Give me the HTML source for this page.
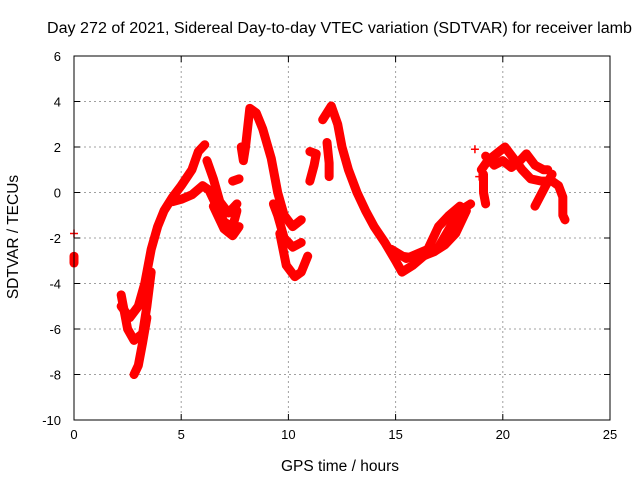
<!DOCTYPE html>
<html><head><meta charset="utf-8"><style>
body{margin:0;background:#fff;width:640px;height:480px;overflow:hidden}
text{font-family:"Liberation Sans",sans-serif;font-size:13px;fill:#000}
.big{font-size:15.5px}
</style></head><body>
<svg id="chart" width="640" height="480">
<text class="big" x="47" y="33" textLength="585" lengthAdjust="spacingAndGlyphs">Day 272 of 2021, Sidereal Day-to-day VTEC variation (SDTVAR) for receiver lamb</text>
<text class="big" x="340" y="471" text-anchor="middle">GPS time / hours</text>
<text class="big" transform="translate(18,237) rotate(-90)" text-anchor="middle">SDTVAR / TECUs</text>
<g id="grid"></g><g id="marks"></g>
<rect x="74" y="56" width="536" height="364" fill="none" stroke="#000" stroke-width="1"/>
</svg>
<script>
const xTicks=[0,5,10,15,20,25];
const yTicks=[-10,-8,-6,-4,-2,0,2,4,6];
const track1=[[2.2,-5],[2.6,-5.5],[3.0,-5],[3.3,-4],[3.6,-2.5],[3.9,-1.5],[4.2,-0.8],[4.6,-0.2],[5.0,0.3],[5.5,1.0],[5.8,1.8],[6.1,2.1]];
const track2=[[4.6,-0.4],[5.0,-0.3],[5.5,-0.1],[6.0,0.3],[6.3,0.1],[6.6,-0.5],[7.0,-1.3],[7.4,-1.5],[7.6,-0.8]];
const track3=[[6.5,-0.6],[7.0,-1.6],[7.4,-1.9],[7.7,-1.5]];
const track4=[[6.2,1.4],[6.5,0.6],[6.8,-0.4],[7.2,-0.9],[7.6,-0.5]];
const track5=[[2.2,-4.5],[2.5,-6],[2.8,-6.5],[3.2,-6.2],[3.4,-5],[3.6,-3.5]];
const track6=[[2.8,-8],[3.0,-7.6],[3.2,-6.6],[3.4,-5.5]];
const track7=[[0,-2.8],[0,-3.1]];
const track8=[[7.4,0.5],[7.7,0.6]];
const track9=[[7.8,2.0],[7.9,1.4],[8.0,2.0],[8.2,3.7],[8.5,3.5],[8.8,2.8],[9.2,1.5],[9.5,0],[9.8,-1],[10.2,-1.5],[10.6,-1.2]];
const track10=[[9.3,-0.5],[9.5,-1.0],[9.8,-2.0],[10.2,-2.4],[10.6,-2.2]];
const track11=[[9.6,-1.8],[9.9,-3.2],[10.3,-3.7],[10.6,-3.5],[10.9,-2.8]];
const track12=[[11.0,0.5],[11.2,1.2],[11.3,1.7],[11.0,1.8]];
const track13=[[11.6,3.2],[12.0,3.8],[12.3,3.0],[12.5,2.0],[12.8,1.0],[13.2,0],[13.6,-0.8],[14.0,-1.5],[14.5,-2.2],[15.0,-3.0],[15.3,-3.5],[15.8,-3.2],[16.3,-2.8],[17.0,-2.4],[17.5,-1.6],[18.0,-0.8],[18.5,-0.5]];
const track14=[[11.8,2.2],[11.9,1.3],[11.9,0.7]];
const track15=[[14.8,-2.5],[15.5,-2.9],[16.5,-2.5],[17.0,-1.5],[17.5,-1.0],[18.0,-0.6],[18.3,-0.8],[17.8,-1.8],[17.3,-2.3],[16.8,-2.6],[16.0,-2.9],[15.3,-2.8]];
const track16=[[19.0,1.0],[19.3,1.4],[19.7,1.7],[20.1,2.0],[20.5,1.5],[20.9,1.0],[21.3,0.6],[21.8,0.5],[22.3,0.5],[22.6,0.3],[22.8,-0.2],[22.8,-1.0],[22.9,-1.2]];
const track17=[[19.2,1.6],[19.6,1.2],[20.0,1.4],[20.4,1.1],[20.8,1.4],[21.1,1.7],[21.5,1.2],[21.9,1.0],[22.1,1.0]];
const track18=[[21.5,-0.6],[22.0,0.3],[22.3,0.8]];
const track19=[[19.1,0.8],[19.1,0.0],[19.2,-0.5]];
const singles=[[0,-1.8],[18.7,1.9],[18.9,0.7]];
const tracks=[track1,track2,track3,track4,track5,track6,track7,track8,track9,track10,track11,track12,track13,track14,track15,track16,track17,track18,track19];
const X=h=>74+h*536/25, Y=v=>56+(6-v)*364/16;
const NS="http://www.w3.org/2000/svg";
const grid=document.getElementById('grid'), marks=document.getElementById('marks');
function mk(t,a,p){const e=document.createElementNS(NS,t);for(const k in a)e.setAttribute(k,a[k]);p.appendChild(e);return e;}
xTicks.forEach(t=>{const x=X(t);
 if(t>0&&t<25){const l=mk('line',{x1:x,y1:56,x2:x,y2:420,stroke:'#a0a0a0','stroke-dasharray':'2,3'},grid);
 
 }
 mk('line',{x1:x,y1:420,x2:x,y2:414,stroke:'#000'},grid);mk('line',{x1:x,y1:56,x2:x,y2:62,stroke:'#000'},grid);
 const tx=mk('text',{x:x,y:439,'text-anchor':'middle'},grid);tx.textContent=t;
 
 });
yTicks.forEach(t=>{const y=Y(t);
 if(t>-10&&t<6){const l=mk('line',{x1:74,y1:y,x2:610,y2:y,stroke:'#a0a0a0','stroke-dasharray':'2,3'},grid);
 
 }
 mk('line',{x1:74,y1:y,x2:80,y2:y,stroke:'#000'},grid);mk('line',{x1:610,y1:y,x2:604,y2:y,stroke:'#000'},grid);
 const tx=mk('text',{x:61,y:y+5,'text-anchor':'end'},grid);tx.textContent=t;
 
 });
function plus(h,v){const x=X(h),y=Y(v);mk('path',{d:`M${x-4},${y}H${x+4}M${x},${y-4}V${y+4}`,stroke:'#ff0000','stroke-width':1.5},marks);}
tracks.forEach(tr=>{
 const pl=mk('polyline',{points:tr.map(p=>X(p[0])+','+Y(p[1])).join(' '),fill:'none',stroke:'#ff0000','stroke-width':9,'stroke-linejoin':'round','stroke-linecap':'round'},marks);
 
 
 tr.forEach(p=>plus(p[0],p[1]));});
singles.forEach(p=>plus(p[0],p[1]));
</script>
</body></html>
